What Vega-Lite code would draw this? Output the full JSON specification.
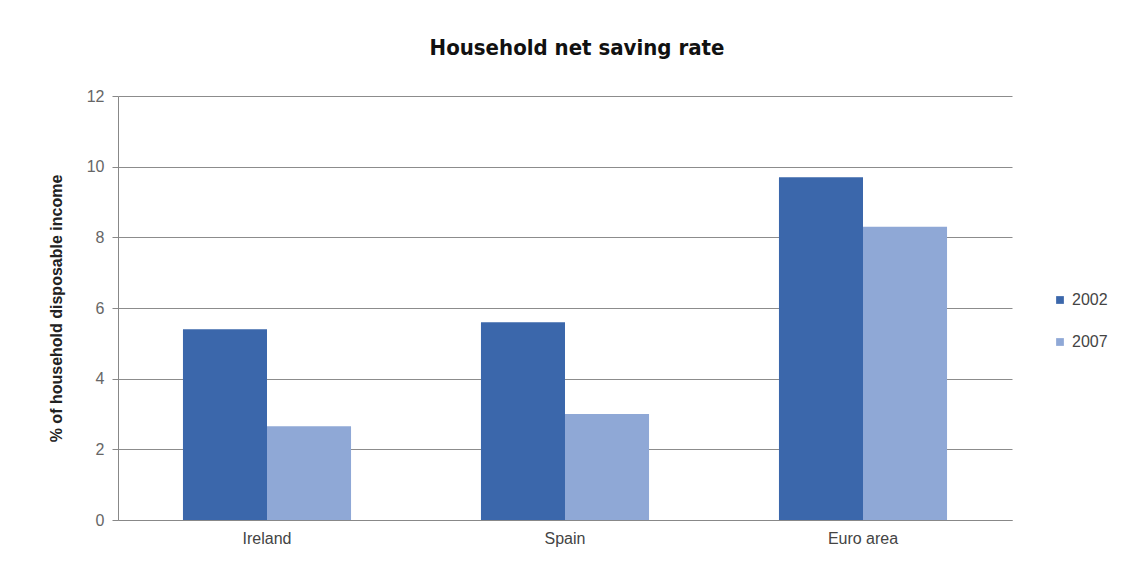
{
  "$schema": "https://vega.github.io/schema/vega-lite/v6.json",
  "autosize": {"type": "none"},
  "padding": {"left": 118, "top": 96, "right": 115, "bottom": 47},
  "width": 894,
  "height": 424,
  "background": "white",
  "title": {
    "text": "Household net saving rate",
    "font": "DejaVu Sans Condensed, Liberation Sans",
    "fontSize": 22,
    "fontWeight": "bold",
    "color": "#111111",
    "anchor": "middle",
    "dx": 12,
    "offset": 28
  },
  "data": {
    "values": [
      {"region": "Ireland", "year": "2002", "rate": 5.4},
      {"region": "Ireland", "year": "2007", "rate": 2.65},
      {"region": "Spain", "year": "2002", "rate": 5.6},
      {"region": "Spain", "year": "2007", "rate": 3.0},
      {"region": "Euro area", "year": "2002", "rate": 9.7},
      {"region": "Euro area", "year": "2007", "rate": 8.3}
    ]
  },
  "mark": {"type": "bar"},
  "encoding": {
    "x": {
      "field": "region",
      "type": "nominal",
      "sort": ["Ireland", "Spain", "Euro area"],
      "scale": {"paddingInner": 0.436, "paddingOuter": 0.218},
      "axis": {
        "title": null,
        "labelAngle": 0,
        "labelFont": "Liberation Sans",
        "labelFontSize": 16,
        "labelColor": "#444444",
        "ticks": false,
        "domainColor": "#888888",
        "labelPadding": 10
      }
    },
    "xOffset": {"field": "year", "type": "nominal", "scale": {"paddingInner": 0, "paddingOuter": 0}},
    "y": {
      "field": "rate",
      "type": "quantitative",
      "scale": {"domain": [0, 12]},
      "axis": {
        "title": "% of household disposable income",
        "titleFont": "Liberation Sans",
        "titleFontSize": 16,
        "titleFontWeight": "bold",
        "titleColor": "#222222",
        "titlePadding": 22,
        "values": [0, 2, 4, 6, 8, 10, 12],
        "labelFont": "Liberation Sans",
        "labelFontSize": 16,
        "labelColor": "#666666",
        "labelPadding": 8,
        "tickColor": "#888888",
        "tickSize": 6,
        "domainColor": "#888888",
        "gridColor": "#8c8c8c",
        "gridWidth": 1
      }
    },
    "color": {
      "field": "year",
      "type": "nominal",
      "scale": {"domain": ["2002", "2007"], "range": ["#3b67ab", "#8fa8d6"]},
      "legend": {
        "title": null,
        "symbolType": "square",
        "symbolSize": 60,
        "labelFont": "Liberation Sans",
        "labelFontSize": 16,
        "labelColor": "#444444",
        "rowPadding": 26,
        "orient": "none",
        "legendX": 934,
        "legendY": 196
      }
    }
  },
  "config": {"view": {"stroke": null}}
}
